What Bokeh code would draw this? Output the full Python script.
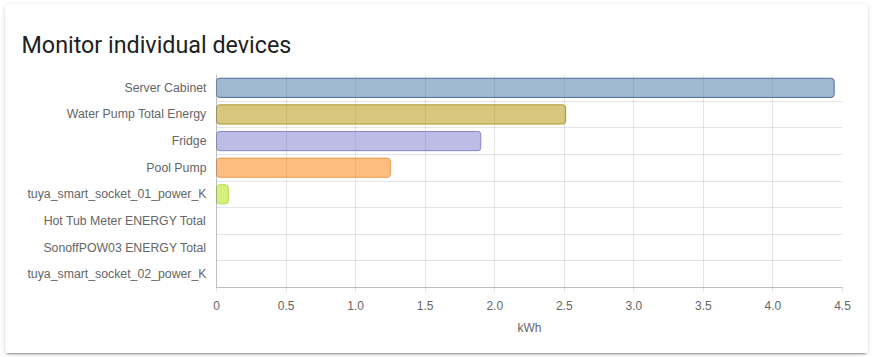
from bokeh.plotting import figure
from bokeh.models import ColumnDataSource, FactorRange, FixedTicker, PrintfTickFormatter
from bokeh.embed import file_html
from bokeh.resources import INLINE

devices = [
    "Server Cabinet",
    "Water Pump Total Energy",
    "Fridge",
    "Pool Pump",
    "tuya_smart_socket_01_power_K",
    "Hot Tub Meter ENERGY Total",
    "SonoffPOW03 ENERGY Total",
    "tuya_smart_socket_02_power_K",
]
energy_kwh = [4.44, 2.51, 1.90, 1.25, 0.085, 0.0, 0.0, 0.0]
fill_colors = ["#4171a1", "#b19100", "#7979cd", "#ff7b00", "#a9e100", "#888888", "#888888", "#888888"]
line_colors = ["#4a6f99", "#b0952a", "#8585c5", "#eb9a50", "#b5dc50",
               "rgba(0,0,0,0)", "rgba(0,0,0,0)", "rgba(0,0,0,0)"]
x_ticks = [0, 0.5, 1.0, 1.5, 2.0, 2.5, 3.0, 3.5, 4.0, 4.5]

src = ColumnDataSource(dict(device=devices, kwh=energy_kwh, fill=fill_colors, line=line_colors))

p = figure(
    width=863, height=349,
    y_range=FactorRange(factors=list(reversed(devices))),
    x_range=(0, 4.5),
    output_backend="svg", toolbar_location=None,
    min_border_left=211, min_border_right=26, min_border_top=70, min_border_bottom=66,
    title="Monitor individual devices",
)
p.margin = (4, 8, 4, 5)
p.styles = {
    "box-shadow": "0 2px 2px 0 rgba(0,0,0,.14), 0 1px 5px 0 rgba(0,0,0,.12), 0 3px 1px -2px rgba(0,0,0,.2)",
    "border-radius": "4px",
}
p.border_fill_color = "white"
p.outline_line_color = None

p.title.text_font = "Roboto"
p.title.text_font_size = "23.3px"
p.title.text_font_style = "normal"
p.title.text_color = "#212121"
p.title.align = "left"
p.title.offset = -195
p.title.standoff = 32

p.hbar(y="device", right="kwh", left=0, height=0.72, source=src,
       fill_color="fill", fill_alpha=0.5, line_color="line", line_width=1,
       border_radius=3)

# grids
p.xgrid.ticker = FixedTicker(ticks=x_ticks)
p.xgrid.grid_line_color = "#000000"
p.xgrid.grid_line_alpha = 0.1
p.ygrid.ticker = FixedTicker(ticks=list(range(len(devices) + 1)))
p.ygrid.grid_line_color = "#000000"
p.ygrid.grid_line_alpha = 0.1

# x axis
p.xaxis.ticker = FixedTicker(ticks=x_ticks)
p.xaxis.formatter = PrintfTickFormatter(format="%.1f")
p.xaxis.major_label_overrides = {0: "0"}
p.xaxis.axis_line_color = "#000000"
p.xaxis.axis_line_alpha = 0.25
p.xaxis.major_tick_line_color = "#000000"
p.xaxis.major_tick_line_alpha = 0.1
p.xaxis.major_tick_in = 0
p.xaxis.major_tick_out = 5
p.xaxis.minor_tick_line_color = None
p.xaxis.major_label_text_font = "Liberation Sans"
p.xaxis.major_label_text_font_size = "12px"
p.xaxis.major_label_text_color = "#666666"
p.xaxis.major_label_standoff = 8
p.xaxis.axis_label = "kWh"
p.xaxis.axis_label_text_font = "Liberation Sans"
p.xaxis.axis_label_text_font_size = "12px"
p.xaxis.axis_label_text_font_style = "normal"
p.xaxis.axis_label_text_color = "#666666"
p.xaxis.axis_label_standoff = 8

# y axis
p.yaxis.axis_line_color = "#000000"
p.yaxis.axis_line_alpha = 0.25
p.yaxis.major_tick_line_color = None
p.yaxis.major_tick_out = 0
p.yaxis.major_tick_in = 0
p.yaxis.major_label_standoff = 10
p.yaxis.major_label_text_font = "Liberation Sans"
p.yaxis.major_label_text_font_size = "12.3px"
p.yaxis.major_label_text_color = "#666666"

open("out.html", "w").write(file_html(p, INLINE))
